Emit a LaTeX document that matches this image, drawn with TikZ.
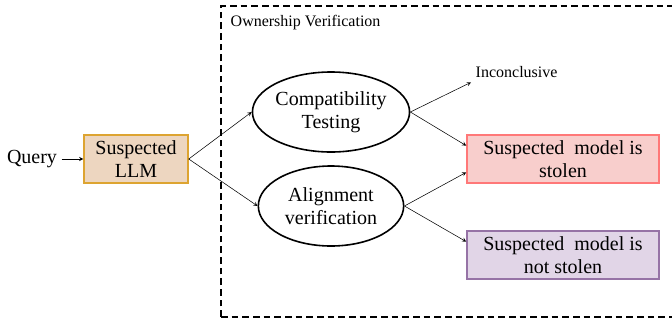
\documentclass[tikz,border=0pt]{standalone}
\usepackage{fontspec}
\setmainfont{Liberation Serif}
\usetikzlibrary{shapes.geometric}
\tikzset{>=stealth}
\definecolor{llmfill}{HTML}{EDD6C0}
\definecolor{llmdraw}{HTML}{DDA431}
\definecolor{stolenfill}{HTML}{F8CECC}
\definecolor{stolendraw}{HTML}{FF7878}
\definecolor{notfill}{HTML}{E1D5E7}
\definecolor{notdraw}{HTML}{9673A6}
\tikzset{
  result/.style={draw,line width=1.1pt,minimum width=144pt,minimum height=36pt,align=center,font=\fontsize{15}{17}\selectfont,inner sep=1pt},
  test/.style={ellipse,draw,line width=1.2pt,minimum width=109pt,minimum height=60pt,align=center,font=\fontsize{15}{17}\selectfont,inner sep=0pt}
}

\begin{document}
\begin{tikzpicture}[x=0.75pt,y=-0.75pt]
      \useasboundingbox (0,0) rectangle (672,322);
      % verification frame, open to the right
      \draw[dash pattern=on 5pt off 3pt,line width=1.1pt] (221,317) -- (221,6) -- (690,6);
      \draw[dash pattern=on 5pt off 3pt,line width=1.1pt] (221,317) -- (690,317);
      \node[anchor=west,font=\fontsize{12}{14}\selectfont] (frame) at (226,23) {Ownership Verification};

      \node[font=\fontsize{15}{17}\selectfont] (query) at (32,159) {Query};
      \node[result,fill=llmfill,draw=llmdraw,minimum width=78pt] (llm) at (136,159) {Suspected\\LLM};

      \node[test] (compat) at (331,112) {Compatibility\\Testing};
      \node[test] (align) at (331,206) {Alignment\\verification};

      \node[anchor=west,font=\fontsize{12}{14}\selectfont] (inconc) at (471,72) {Inconclusive};
      \node[result,fill=stolenfill,draw=stolendraw] (stolen) at (563,159) {Suspected\ \ model is\\stolen};
      \node[result,fill=notfill,draw=notdraw] (notstolen) at (563,255) {Suspected\ \ model is\\not stolen};

      \draw[->] (query) -- (llm);
      \draw[->] (llm.east) -- (compat.west);
      \draw[->] (llm.east) -- (align.west);
      \draw[->] (compat.east) -- (inconc.south west);
      \draw[->] (compat.east) -- ([yshift=10pt]stolen.west);
      \draw[->] (align.east) -- ([yshift=-10pt]stolen.west);
      \draw[->] (align.east) -- ([yshift=10pt]notstolen.west);
    \end{tikzpicture}
\end{document}
